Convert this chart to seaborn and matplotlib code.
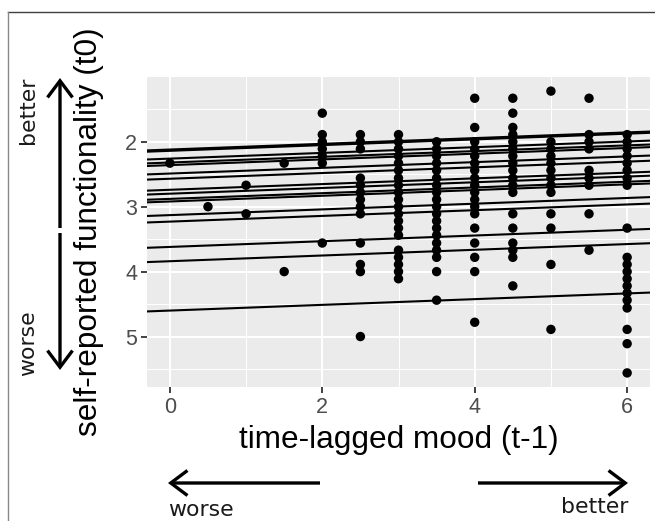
import numpy as np
import pandas as pd
import matplotlib
matplotlib.use("Agg")
import matplotlib.pyplot as plt
import seaborn as sns
from matplotlib.patches import FancyArrowPatch
from matplotlib.lines import Line2D

# ---- data ----
mood_levels = [0, 0.5, 1, 1.5, 2, 2.5, 3, 3.5, 4, 4.5, 5, 5.5, 6]
func_at_0 = [2.33]
func_at_0_5 = [3.00]
func_at_1 = [2.67, 3.11]
func_at_1_5 = [2.33, 4.00]
func_at_2 = [1.56, 1.89, 2.00, 2.11, 2.22, 2.33, 3.56]
func_at_2_5 = [1.89, 2.00, 2.11, 2.56, 2.67, 2.78, 2.89, 3.00, 3.11, 3.56, 3.89, 4.00, 5.00]
func_at_3 = [1.89, 2.00, 2.11, 2.22, 2.33, 2.44, 2.56, 2.67, 2.78, 2.89, 3.00, 3.11,
             3.22, 3.33, 3.44, 3.67, 3.78, 3.89, 4.00, 4.11]
func_at_3_5 = [2.00, 2.11, 2.22, 2.33, 2.44, 2.56, 2.67, 2.78, 2.89, 3.00, 3.11, 3.22,
               3.33, 3.44, 3.56, 3.67, 3.78, 4.00, 4.44]
func_at_4 = [1.33, 1.78, 2.00, 2.11, 2.22, 2.33, 2.44, 2.56, 2.67, 2.78, 2.89, 3.00,
             3.11, 3.33, 3.56, 3.78, 4.00, 4.78]
func_at_4_5 = [1.33, 1.56, 1.78, 1.89, 2.00, 2.11, 2.22, 2.33, 2.44, 2.56, 2.67, 2.78,
               3.11, 3.33, 3.56, 3.67, 3.78, 4.22]
func_at_5 = [1.22, 2.00, 2.11, 2.22, 2.33, 2.44, 2.56, 2.67, 2.78, 3.11, 3.33, 3.89, 4.89]
func_at_5_5 = [1.33, 1.89, 2.00, 2.11, 2.44, 2.56, 2.67, 3.11, 3.67]
func_at_6 = [1.89, 2.00, 2.11, 2.22, 2.33, 2.44, 2.56, 2.67, 3.33, 3.78, 3.89, 4.00,
             4.11, 4.22, 4.33, 4.44, 4.56, 4.89, 5.11, 5.56]

# random-intercept regression lines (value at mood = 0) and common slope
line_intercepts = [2.12, 2.14, 2.26, 2.32, 2.36, 2.49, 2.57, 2.74, 2.80, 2.88, 2.92,
                   3.13, 3.23, 3.62, 3.84, 4.60]
line_slope = -0.044

x_ticks = [0, 2, 4, 6]
y_ticks = [2, 3, 4, 5]
x_label = "time-lagged mood (t-1)"
y_label = "self-reported functionality (t0)"

columns = [func_at_0, func_at_0_5, func_at_1, func_at_1_5, func_at_2, func_at_2_5,
           func_at_3, func_at_3_5, func_at_4, func_at_4_5, func_at_5, func_at_5_5, func_at_6]
rows = []
for m, col in zip(mood_levels, columns):
    for v in col:
        rows.append((m, v))
df = pd.DataFrame(rows, columns=["mood", "func"])

# ---- figure ----
W, H = 655, 521
fig = plt.figure(figsize=(W / 100, H / 100), dpi=100)
fig.patch.set_facecolor("white")

def fx(px):
    return px / W

def fy(py):
    return 1 - py / H

pl, pr, pt, pb = 147, 650, 77, 387
ax = fig.add_axes([fx(pl), fy(pb), (pr - pl) / W, (pb - pt) / H])
ax.set_facecolor("#EBEBEB")
for s in ax.spines.values():
    s.set_visible(False)

for b in line_intercepts:
    ax.axline((0, b), slope=line_slope, color="black", lw=1.5, zorder=2)

sns.scatterplot(data=df, x="mood", y="func", ax=ax, color="black", s=46,
                edgecolor="none", linewidth=0, zorder=3, legend=False)

xr = max(mood_levels) - min(mood_levels)
ax.set_xlim(min(mood_levels) - 0.05 * xr, max(mood_levels) + 0.05 * xr)
ymin, ymax = df["func"].min(), df["func"].max()
yr = ymax - ymin
ax.set_ylim(ymax + 0.05 * yr, ymin - 0.05 * yr)

ax.set_xticks(x_ticks)
ax.set_yticks(y_ticks)
ax.set_xticks([1, 3, 5], minor=True)
ax.set_yticks([1.5, 2.5, 3.5, 4.5, 5.5], minor=True)
ax.grid(which="major", color="white", lw=1.5)
ax.grid(which="minor", color="white", lw=0.75)
ax.set_axisbelow(True)
ax.tick_params(which="major", length=4.5, width=1.3, color="#333333",
               labelcolor="#4D4D4D", labelsize=15.5, pad=2.5)
ax.tick_params(which="minor", length=0)
for lab in ax.get_xticklabels() + ax.get_yticklabels():
    lab.set_fontfamily("Liberation Sans")

ax.set_xlabel(x_label, fontsize=22.7, fontfamily="Liberation Sans", color="black")
ax.set_ylabel(y_label, fontsize=22.7, fontfamily="Liberation Sans", color="black")
ax.xaxis.label.set_va("center")
ax.yaxis.label.set_va("center")
ax.xaxis.set_label_coords(0.5, (pb - 440) / (pb - pt))
ax.yaxis.set_label_coords((89 - pl) / (pr - pl), 0.5)

# ---- annotations: arrows and words ----
def arrow(x0, y0, x1, y1):
    a = FancyArrowPatch((fx(x0), fy(y0)), (fx(x1), fy(y1)), transform=fig.transFigure,
                        arrowstyle="->,head_length=0.6,head_width=0.45",
                        mutation_scale=20, lw=2.4, color="black",
                        shrinkA=0, shrinkB=0, capstyle="butt", joinstyle="miter")
    fig.add_artist(a)

arrow(320, 483, 168, 483)
arrow(478, 483, 628, 483)
arrow(60, 228, 60, 78)
arrow(60, 233, 60, 370)

ann_font = dict(family="DejaVu Sans", size=15.8, color="#1a1a1a")
fig.text(fx(168), fy(510), "worse", ha="left", va="center", **ann_font)
fig.text(fx(628), fy(507), "better", ha="right", va="center", **ann_font)
fig.text(fx(28), fy(110), "better", ha="center", va="center", rotation=90, **ann_font)
fig.text(fx(28), fy(343), "worse", ha="center", va="center", rotation=90, **ann_font)

# partial frame (top and left edges visible in the reference)
fig.add_artist(Line2D([fx(7.5), 1], [fy(11.5), fy(11.5)], transform=fig.transFigure,
                      color="#404040", lw=1.0))
fig.add_artist(Line2D([fx(7.5), fx(7.5)], [fy(11.5), 0], transform=fig.transFigure,
                      color="#888888", lw=1.0))

fig.savefig("out.png", dpi=100)
